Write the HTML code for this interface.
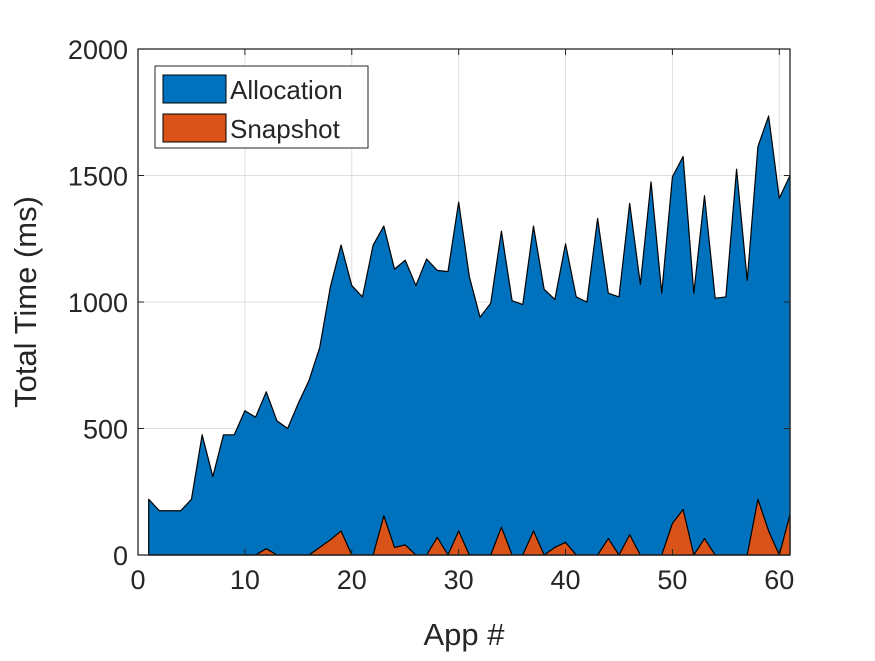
<!DOCTYPE html>
<html><head><meta charset="utf-8"><style>
body{margin:0;background:#fff;}
svg text{font-family:"Liberation Sans",Arial,sans-serif;fill:#262626;}
</style></head><body>
<svg id="chart" width="875" height="656" viewBox="0 0 875 656" xmlns="http://www.w3.org/2000/svg">
<rect width="875" height="656" fill="#fff"/>
<g id="grid"></g>
<g id="areas"></g>
<g id="axes"></g>
<text transform="translate(36,302) rotate(-90)" text-anchor="middle" font-size="31">Total Time (ms)</text>
<text x="464" y="645" text-anchor="middle" font-size="31">App #</text>
<g>
<rect x="155" y="66" width="213" height="82" fill="#fff" stroke="#262626" stroke-width="1"/>
<g>
<rect x="163" y="75" width="63" height="28" fill="#0072BD" stroke="#000" stroke-width="1"/>
<text x="230" y="99" font-size="26">Allocation</text></g>
<g>
<rect x="163" y="114" width="63" height="28" fill="#D95319" stroke="#000" stroke-width="1"/>
<text x="230" y="138" font-size="26">Snapshot</text></g>
</g>
</svg>
<script>
const apps=[];for(let i=1;i<=61;i++)apps.push(i);
const snapshot=[0,0,0,0,0,0,0,0,0,0,0,25,0,0,0,0,30,60,95,0,0,0,155,30,40,0,0,70,0,95,0,0,0,110,0,0,95,0,30,50,0,0,0,65,0,80,0,0,0,125,180,0,65,0,0,0,0,220,95,0,160];
const totals=[220,175,175,175,220,475,310,475,475,570,545,645,530,500,600,690,820,1060,1225,1065,1020,1225,1300,1130,1165,1065,1170,1125,1120,1395,1100,940,995,1280,1005,990,1300,1050,1010,1230,1020,1000,1330,1035,1020,1390,1070,1475,1035,1495,1575,1035,1420,1015,1020,1525,1085,1615,1735,1410,1500];
const allocation=totals.map((t,i)=>t-snapshot[i]);
const xTicks=[0,10,20,30,40,50,60];
const yTicks=[0,500,1000,1500,2000];
const L=138,R=790,T=49,B=555,XMAX=61,YMAX=2000;
const X=v=>L+(R-L)*v/XMAX, Y=v=>B-(B-T)*v/YMAX;
const NS="http://www.w3.org/2000/svg";
function mk(tag,attrs,parent){const e=document.createElementNS(NS,tag);for(const k in attrs)e.setAttribute(k,attrs[k]);parent.appendChild(e);return e;}
const grid=document.getElementById('grid'),areas=document.getElementById('areas'),axes=document.getElementById('axes');
xTicks.forEach(v=>{const l=mk('line',{x1:X(v),x2:X(v),y1:T,y2:B,stroke:'#dfdfdf','stroke-width':1},grid);

});
yTicks.forEach(v=>{const l=mk('line',{x1:L,x2:R,y1:Y(v),y2:Y(v),stroke:'#dfdfdf','stroke-width':1},grid);

});
let ptsA=[],ptsS=[];
apps.forEach((a,i)=>{ptsS.push(X(a)+','+Y(snapshot[i]));ptsA.push(X(a)+','+Y(snapshot[i]+allocation[i]));});
const base=[X(apps[apps.length-1])+','+Y(0),X(apps[0])+','+Y(0)];
const pa=mk('polygon',{points:ptsA.join(' ')+' '+base.join(' '),fill:'#0072BD',stroke:'#000','stroke-width':1.2,'stroke-linejoin':'round'},areas);


const ps=mk('polygon',{points:ptsS.join(' ')+' '+base.join(' '),fill:'#D95319',stroke:'#000','stroke-width':1.2,'stroke-linejoin':'round'},areas);


const bx=mk('rect',{x:L,y:T,width:R-L,height:B-T,fill:'none',stroke:'#262626','stroke-width':1.3},axes);


xTicks.forEach(v=>{mk('line',{x1:X(v),x2:X(v),y1:B,y2:B-6,stroke:'#262626'},axes);mk('line',{x1:X(v),x2:X(v),y1:T,y2:T+6,stroke:'#262626'},axes);
const t=mk('text',{x:X(v),y:B+34,'text-anchor':'middle','font-size':27},axes);t.textContent=v;

});
yTicks.forEach(v=>{mk('line',{x1:L,x2:L+6,y1:Y(v),y2:Y(v),stroke:'#262626'},axes);mk('line',{x1:R,x2:R-6,y1:Y(v),y2:Y(v),stroke:'#262626'},axes);
const t=mk('text',{x:L-10,y:Y(v)+10,'text-anchor':'end','font-size':27},axes);t.textContent=v;

});
</script>
</body></html>
